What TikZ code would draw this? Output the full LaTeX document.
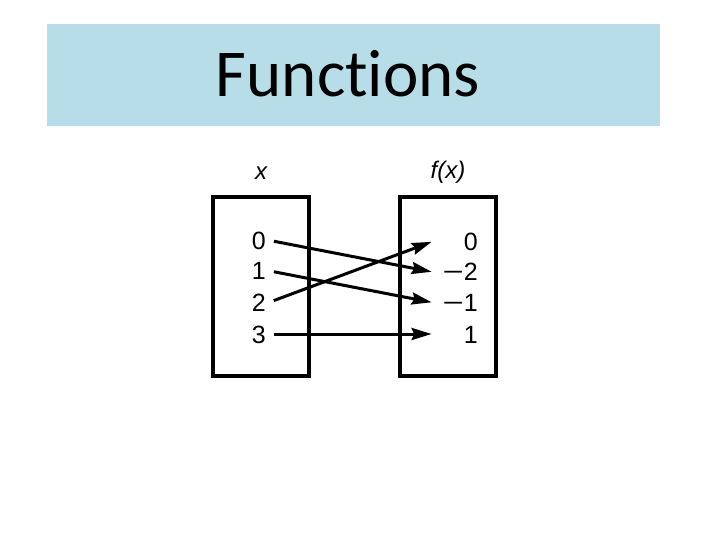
\documentclass[tikz,border=0pt]{standalone}
\usepackage{fontspec}
\usepackage{graphicx}
\setmainfont{Liberation Sans}
\newfontfamily\titlefont[Ligatures=NoCommon]{Carlito}
\usetikzlibrary{arrows.meta}
\newcommand{\wminus}{\scalebox{1.45}[1]{−}}
\begin{document}
\begin{tikzpicture}[x=1bp,y=-1bp,
  box/.style={draw=black,line width=4bp},
  num/.style={font=\fontsize{25bp}{27bp}\selectfont,inner sep=0pt,text width=40bp,align=right,anchor=east,text height=18bp,text depth=0pt},
  lnum/.style={font=\fontsize{25bp}{27bp}\selectfont,inner xsep=4bp,inner ysep=0pt,anchor=east,text height=18bp,text depth=0pt},
  head/.style={font=\fontsize{24bp}{26bp}\selectfont\itshape,inner sep=0pt},
  conn/.style={line width=3bp,-{Stealth[length=20bp,width=12bp,inset=2.5bp]},shorten <=4bp,shorten >=1bp}
]
\useasboundingbox (0,0) rectangle (720,540);
\fill[fill={rgb,255:red,183;green,221;blue,232}] (47,24) rectangle (660,126);
\node[font=\titlefont\fontsize{67bp}{72bp}\selectfont,inner sep=0pt,anchor=base] (title) at (348,97) {Functions};
\draw[box] (213,197.5) rectangle (309,376);
\draw[box] (400,197.5) rectangle (496,376);
\node[head] (hx) at (261,173) {x};
\node[head] (hf) at (448,172) {f(x)};
\node[lnum] (l0) at (270,240.5) {0};
\node[lnum] (l1) at (270,271) {1};
\node[lnum] (l2) at (270,302) {2};
\node[lnum] (l3) at (270,334) {3};
\node[num] (r0) at (478,241.5) {0};
\node[num] (r1) at (478,272) {\wminus2};
\node[num] (r2) at (478,302.5) {\wminus1};
\node[num] (r3) at (478,334) {1};
\draw[conn] (l0.east) -- ([xshift=-5bp]r1.west);
\draw[conn] (l1.east) -- ([xshift=-5bp]r2.west);
\draw[conn] (l2.east) -- ([xshift=-5bp]r0.west);
\draw[conn] (l3.east) -- ([xshift=-5bp]r3.west);
\end{tikzpicture}
\end{document}
